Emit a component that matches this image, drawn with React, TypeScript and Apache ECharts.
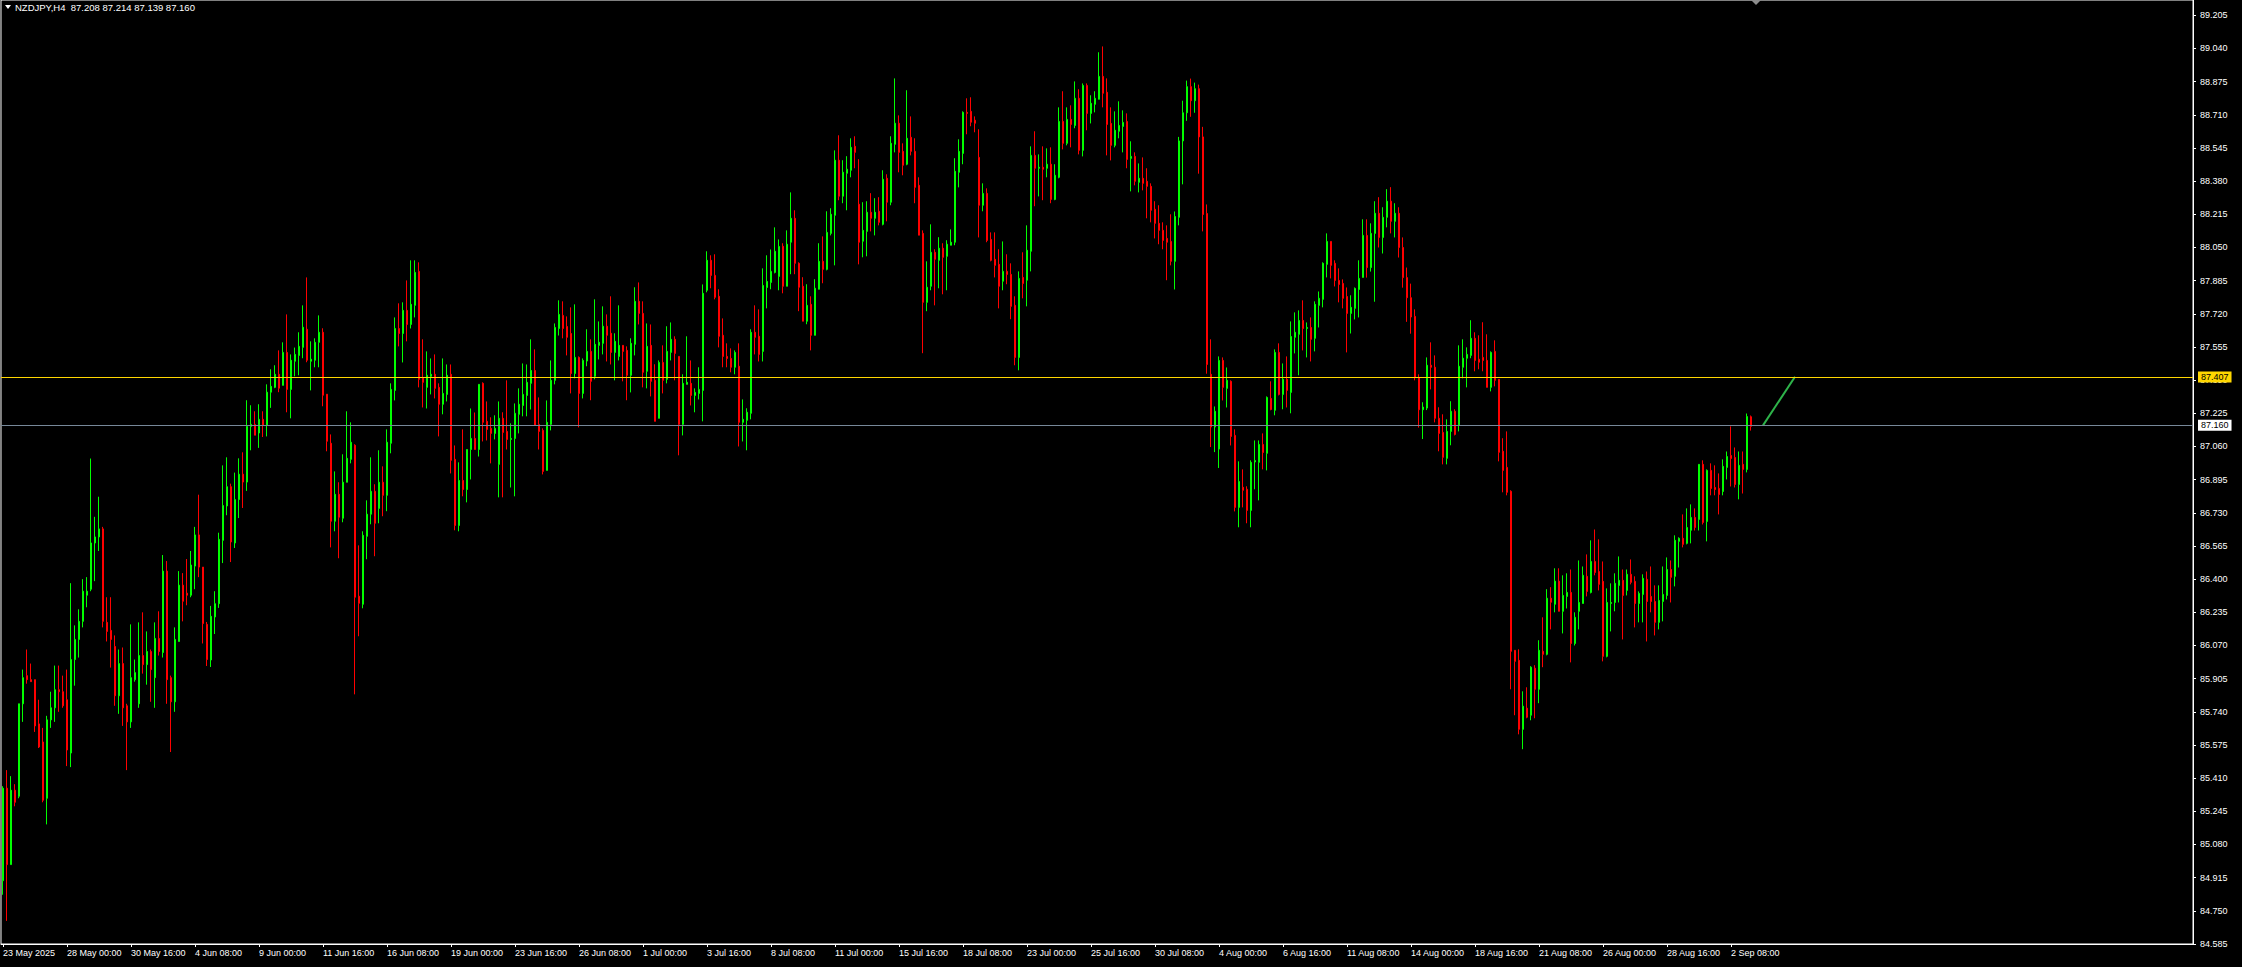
import React, { useEffect, useRef } from 'react';
import * as echarts from 'echarts';

const BASE = 84.585;
const TICK_STEP = 0.165;
const AXIS_TOP = 4.696;
const LABEL_STEP = 16;
const SLOTS = 548;

const symbolName = 'NZDJPY,H4';
const lastQuote = '87.208 87.214 87.139 87.160';
const levelLine = 87.407;
const bidLine = 87.16;
const trendIdx = [440, 448];
const trendVals = [87.165, 87.407];

const timeLabels = [
  '23 May 2025', '28 May 00:00', '30 May 16:00', '4 Jun 08:00', '9 Jun 00:00', '11 Jun 16:00',
  '16 Jun 08:00', '19 Jun 00:00', '23 Jun 16:00', '26 Jun 08:00', '1 Jul 00:00', '3 Jul 16:00',
  '8 Jul 08:00', '11 Jul 00:00', '15 Jul 16:00', '18 Jul 08:00', '23 Jul 00:00', '25 Jul 16:00',
  '30 Jul 08:00', '4 Aug 00:00', '6 Aug 16:00', '11 Aug 08:00', '14 Aug 00:00', '18 Aug 16:00',
  '21 Aug 08:00', '26 Aug 00:00', '28 Aug 16:00', '2 Sep 08:00',
];

const opens = [
  84.90, 85.36, 84.98, 85.35, 85.32, 85.78, 85.92, 85.90, 85.90, 85.68,
  85.59, 85.31, 85.70, 85.76, 85.85, 85.84, 85.80, 85.535, 86.00, 86.10,
  86.19, 86.32, 86.35, 86.58, 86.61, 86.65, 86.185, 86.145, 86.065, 85.82,
  85.98, 85.77, 85.69, 85.90, 85.78, 86.02, 85.975, 86.04, 85.91, 86.105,
  86.035, 86.44, 85.91, 85.79, 86.09, 86.37, 86.33, 86.32, 86.465, 86.62,
  86.46, 86.175, 85.998, 86.212, 86.278, 86.593, 86.764, 86.86, 86.58, 86.796,
  86.922, 86.883, 87.16, 87.17, 87.127, 87.195, 87.165, 87.33, 87.354, 87.419,
  87.364, 87.528, 87.344, 87.484, 87.513, 87.553, 87.643, 87.484, 87.489, 87.578,
  87.628, 87.32, 87.076, 86.688, 86.822, 86.703, 86.882, 86.996, 87.066, 86.315,
  86.275, 86.613, 86.723, 86.837, 86.752, 86.882, 86.817, 87.076, 87.339, 87.647,
  87.622, 87.737, 87.667, 87.762, 87.931, 87.399, 87.354, 87.409, 87.419, 87.354,
  87.27, 87.319, 87.419, 86.996, 86.667, 86.891, 86.846, 87.045, 87.10, 87.045,
  87.374, 87.185, 87.15, 87.125, 86.971, 87.20, 87.135, 87.095, 87.10, 87.22,
  87.264, 87.314, 87.374, 87.438, 87.17, 87.14, 86.941, 87.17, 87.389, 87.647,
  87.712, 87.657, 87.622, 87.423, 87.503, 87.324, 87.485, 87.533, 87.409, 87.563,
  87.573, 87.658, 87.623, 87.528, 87.508, 87.563, 87.538, 87.414, 87.568, 87.782,
  87.722, 87.434, 87.563, 87.389, 87.20, 87.478, 87.394, 87.528, 87.593, 87.508,
  87.17, 87.369, 87.374, 87.314, 87.324, 87.339, 87.837, 87.986, 87.911, 87.807,
  87.613, 87.508, 87.498, 87.454, 87.459, 87.18, 87.19, 87.225, 87.628, 87.608,
  87.533, 87.851, 87.876, 87.926, 87.906, 88.056, 87.857, 88.076, 88.195, 87.971,
  87.857, 87.683, 87.767, 87.613, 87.842, 87.981, 87.941, 88.12, 88.21, 88.484,
  88.305, 88.419, 88.434, 88.553, 88.265, 88.081, 88.13, 88.225, 88.195, 88.23,
  88.165, 88.394, 88.275, 88.563, 88.668, 88.528, 88.464, 88.598, 88.528, 88.359,
  88.12, 87.777, 87.857, 88.026, 87.986, 88.046, 88.006, 88.061, 88.076, 88.424,
  88.518, 88.722, 88.727, 88.683, 88.498, 88.26, 88.319, 88.09, 87.991, 87.966,
  87.882, 87.931, 87.916, 87.762, 87.503, 87.901, 87.887, 88.031, 88.508, 88.444,
  88.449, 88.444, 88.464, 88.289, 88.399, 88.677, 88.568, 88.687, 88.657, 88.792,
  88.533, 88.856, 88.717, 88.762, 88.787, 88.901, 88.822, 88.667, 88.558, 88.628,
  88.652, 88.677, 88.493, 88.503, 88.374, 88.394, 88.379, 88.354, 88.24, 88.17,
  88.135, 88.095, 88.08, 87.981, 88.20, 88.58, 88.72, 88.85, 88.78, 88.84,
  88.60, 88.219, 87.419, 87.157, 87.047, 87.488, 87.349, 87.384, 87.115, 86.757,
  86.857, 86.847, 86.742, 86.983, 86.981, 87.07, 87.026, 87.299, 87.24, 87.528,
  87.319, 87.394, 87.329, 87.603, 87.618, 87.687, 87.647, 87.652, 87.598, 87.762,
  87.792, 87.966, 88.08, 87.971, 87.886, 87.871, 87.806, 87.722, 87.747, 87.841,
  87.901, 88.11, 87.95, 88.12, 88.22, 88.10, 88.20, 88.28, 88.18, 88.22,
  88.05, 87.90, 87.80, 87.707, 87.402, 87.243, 87.251, 87.464, 87.454, 87.20,
  87.13, 87.001, 87.135, 87.235, 87.165, 87.454, 87.499, 87.513, 87.598, 87.494,
  87.503, 87.488, 87.354, 87.533, 87.394, 87.036, 86.956, 86.837, 86.046, 85.996,
  85.653, 85.758, 85.723, 85.957, 85.852, 86.041, 86.026, 86.305, 86.275, 86.39,
  86.24, 86.314, 86.334, 86.08, 86.24, 86.279, 86.414, 86.334, 86.488, 86.438,
  86.389, 86.016, 86.279, 86.284, 86.369, 86.394, 86.344, 86.424, 86.389, 86.279,
  86.324, 86.399, 86.314, 86.289, 86.185, 86.289, 86.319, 86.448, 86.414, 86.588,
  86.603, 86.578, 86.643, 86.707, 86.697, 86.971, 86.687, 86.941, 86.856, 86.851,
  86.836, 86.956, 87.015, 87.005, 86.871, 86.971, 86.946, 87.208,
];

const highs = [
  85.37, 85.45, 85.42, 85.38, 85.78, 85.95, 86.05, 85.98, 85.90, 85.80,
  85.66, 85.72, 85.84, 85.97, 85.97, 85.92, 85.95, 86.38, 86.17, 86.25,
  86.40, 86.41, 87.00, 86.71, 86.81, 86.66, 86.31, 86.31, 86.12, 86.05,
  86.06, 85.78, 86.175, 86.00, 86.185, 86.235, 86.14, 86.05, 86.185, 86.24,
  86.52, 86.49, 85.92, 86.16, 86.44, 86.43, 86.50, 86.54, 86.66, 86.82,
  86.46, 86.187, 86.267, 86.34, 86.631, 86.966, 87.006, 86.875, 86.93, 87.001,
  87.031, 87.29, 87.265, 87.235, 87.27, 87.235, 87.369, 87.444, 87.464, 87.538,
  87.578, 87.717, 87.518, 87.552, 87.628, 87.762, 87.901, 87.583, 87.598, 87.712,
  87.648, 87.32, 87.12, 86.936, 86.882, 87.021, 87.235, 87.18, 87.071, 86.568,
  86.638, 86.792, 87.006, 86.872, 87.041, 86.961, 87.145, 87.374, 87.702, 87.772,
  87.777, 87.886, 87.986, 87.986, 87.976, 87.593, 87.533, 87.498, 87.518, 87.374,
  87.498, 87.468, 87.468, 87.065, 86.981, 87.145, 87.045, 87.249, 87.229, 87.369,
  87.379, 87.284, 87.205, 87.215, 87.284, 87.23, 87.389, 87.175, 87.274, 87.349,
  87.473, 87.468, 87.593, 87.543, 87.304, 87.15, 87.289, 87.488, 87.672, 87.787,
  87.782, 87.707, 87.752, 87.767, 87.508, 87.498, 87.643, 87.593, 87.792, 87.682,
  87.757, 87.717, 87.807, 87.623, 87.762, 87.563, 87.558, 87.598, 87.852, 87.876,
  87.782, 87.672, 87.667, 87.469, 87.488, 87.563, 87.658, 87.677, 87.608, 87.508,
  87.419, 87.608, 87.488, 87.349, 87.454, 87.866, 88.031, 88.011, 88.016, 87.842,
  87.697, 87.573, 87.548, 87.538, 87.573, 87.294, 87.25, 87.643, 87.762, 87.742,
  87.946, 88.011, 88.04, 88.15, 88.09, 88.071, 88.135, 88.324, 88.235, 87.976,
  87.902, 87.867, 87.807, 87.892, 88.071, 88.105, 88.23, 88.245, 88.533, 88.608,
  88.484, 88.504, 88.593, 88.603, 88.489, 88.275, 88.28, 88.32, 88.295, 88.30,
  88.434, 88.414, 88.603, 88.891, 88.707, 88.568, 88.832, 88.702, 88.593, 88.399,
  88.135, 87.981, 88.165, 88.041, 88.101, 88.071, 88.086, 88.14, 88.494, 88.588,
  88.727, 88.792, 88.797, 88.702, 88.638, 88.369, 88.344, 88.125, 88.125, 88.041,
  88.08, 88.016, 87.971, 87.807, 87.931, 88.026, 88.16, 88.553, 88.628, 88.513,
  88.553, 88.543, 88.548, 88.464, 88.747, 88.827, 88.747, 88.757, 88.876, 88.837,
  88.866, 88.866, 88.807, 88.827, 89.021, 89.05, 88.891, 88.747, 88.727, 88.777,
  88.732, 88.717, 88.578, 88.523, 88.468, 88.498, 88.444, 88.369, 88.28, 88.26,
  88.175, 88.16, 88.215, 88.229, 88.60, 88.78, 88.88, 88.89, 88.87, 88.86,
  88.65, 88.264, 87.593, 87.259, 87.508, 87.503, 87.453, 87.389, 87.145, 86.986,
  86.946, 86.862, 86.991, 87.09, 87.09, 87.125, 87.309, 87.384, 87.543, 87.573,
  87.473, 87.508, 87.682, 87.727, 87.737, 87.787, 87.677, 87.702, 87.782, 87.831,
  87.976, 88.12, 88.08, 87.986, 87.946, 87.891, 87.851, 87.812, 87.851, 87.986,
  88.19, 88.19, 88.17, 88.28, 88.30, 88.25, 88.34, 88.35, 88.27, 88.25,
  88.10, 87.95, 87.87, 87.742, 87.419, 87.28, 87.503, 87.578, 87.513, 87.255,
  87.22, 87.195, 87.285, 87.245, 87.563, 87.593, 87.553, 87.688, 87.628, 87.613,
  87.678, 87.618, 87.533, 87.588, 87.394, 87.101, 87.135, 86.842, 86.046, 86.051,
  85.842, 85.862, 85.967, 85.972, 86.096, 86.21, 86.35, 86.36, 86.454, 86.454,
  86.419, 86.429, 86.448, 86.235, 86.493, 86.463, 86.523, 86.593, 86.647, 86.598,
  86.488, 86.354, 86.379, 86.429, 86.513, 86.448, 86.448, 86.498, 86.414, 86.339,
  86.424, 86.438, 86.463, 86.369, 86.369, 86.463, 86.508, 86.493, 86.618, 86.608,
  86.722, 86.752, 86.772, 86.752, 86.971, 86.991, 86.946, 86.976, 86.966, 86.926,
  86.996, 87.035, 87.16, 87.055, 87.035, 87.035, 87.224, 87.214,
];

const lows = [
  84.83, 84.70, 84.98, 85.27, 85.31, 85.69, 85.88, 85.89, 85.64, 85.56,
  85.29, 85.18, 85.66, 85.69, 85.74, 85.76, 85.47, 85.465, 85.87, 86.01,
  86.16, 86.26, 86.34, 86.39, 86.54, 86.16, 86.09, 85.96, 85.77, 85.73,
  85.67, 85.45, 85.66, 85.89, 85.76, 85.93, 85.875, 85.79, 85.76, 86.02,
  86.01, 85.78, 85.54, 85.74, 86.09, 86.19, 86.27, 86.31, 86.35, 86.41,
  86.08, 85.968, 85.963, 86.127, 86.257, 86.48, 86.718, 86.485, 86.555, 86.704,
  86.754, 86.839, 87.041, 87.116, 87.053, 87.107, 87.11, 87.252, 87.35, 87.33,
  87.364, 87.23, 87.20, 87.409, 87.414, 87.499, 87.479, 87.339, 87.454, 87.454,
  87.26, 87.036, 86.558, 86.638, 86.504, 86.683, 86.882, 86.976, 85.827, 86.116,
  86.255, 86.499, 86.673, 86.514, 86.678, 86.713, 86.738, 87.026, 87.289, 87.558,
  87.478, 87.583, 87.647, 87.702, 87.354, 87.254, 87.249, 87.319, 87.299, 87.11,
  87.22, 87.284, 86.926, 86.643, 86.638, 86.812, 86.782, 86.896, 87.045, 87.01,
  87.085, 87.09, 86.976, 87.095, 86.807, 86.807, 87.045, 86.856, 86.812, 87.125,
  87.21, 87.21, 87.244, 87.165, 87.045, 86.921, 86.941, 87.14, 87.369, 87.612,
  87.598, 87.513, 87.324, 87.399, 87.155, 87.299, 87.459, 87.29, 87.394, 87.493,
  87.518, 87.483, 87.468, 87.389, 87.488, 87.384, 87.29, 87.329, 87.513, 87.667,
  87.354, 87.349, 87.309, 87.185, 87.20, 87.324, 87.374, 87.488, 87.389, 87.016,
  87.115, 87.369, 87.264, 87.23, 87.294, 87.185, 87.827, 87.847, 87.792, 87.553,
  87.454, 87.454, 87.429, 87.419, 87.06, 87.085, 87.041, 87.195, 87.518, 87.483,
  87.483, 87.747, 87.842, 87.921, 87.837, 87.822, 87.857, 87.917, 87.917, 87.733,
  87.683, 87.668, 87.538, 87.613, 87.842, 87.872, 87.936, 88.11, 87.961, 88.285,
  88.27, 88.235, 88.399, 88.444, 87.966, 88.001, 88.006, 88.13, 88.11, 88.16,
  88.16, 88.18, 88.26, 88.523, 88.424, 88.409, 88.459, 88.508, 88.27, 88.111,
  87.524, 87.733, 87.837, 87.762, 87.847, 87.817, 87.837, 88.061, 88.061, 88.349,
  88.464, 88.613, 88.653, 88.623, 88.10, 88.23, 88.076, 87.981, 87.901, 87.747,
  87.837, 87.867, 87.693, 87.464, 87.439, 87.797, 87.757, 87.931, 88.255, 88.304,
  88.285, 88.399, 88.27, 88.285, 88.394, 88.538, 88.558, 88.548, 88.643, 88.513,
  88.503, 88.633, 88.667, 88.722, 88.787, 88.747, 88.508, 88.483, 88.548, 88.593,
  88.523, 88.444, 88.329, 88.359, 88.324, 88.334, 88.195, 88.175, 88.095, 88.066,
  88.041, 87.887, 87.961, 87.841, 88.16, 88.364, 88.68, 88.70, 88.72, 88.417,
  88.13, 87.422, 87.057, 87.032, 86.953, 87.289, 87.254, 87.065, 86.737, 86.658,
  86.757, 86.678, 86.658, 86.847, 86.792, 86.946, 86.941, 87.24, 87.215, 87.314,
  87.245, 87.254, 87.225, 87.523, 87.414, 87.538, 87.503, 87.483, 87.533, 87.652,
  87.752, 87.901, 87.896, 87.856, 87.777, 87.747, 87.528, 87.622, 87.692, 87.702,
  87.901, 87.90, 87.93, 87.78, 88.05, 88.02, 88.15, 88.12, 88.10, 88.00,
  87.85, 87.68, 87.621, 87.389, 87.154, 87.097, 87.241, 87.344, 87.18, 87.036,
  86.971, 86.971, 87.066, 87.115, 87.135, 87.399, 87.354, 87.499, 87.434, 87.444,
  87.434, 87.354, 87.334, 87.359, 86.986, 86.832, 86.817, 85.852, 85.723, 85.628,
  85.554, 85.708, 85.698, 85.708, 85.783, 85.962, 86.021, 86.15, 86.235, 86.24,
  86.13, 86.254, 85.986, 86.07, 86.15, 86.279, 86.314, 86.329, 86.419, 86.344,
  85.991, 86.011, 86.14, 86.24, 86.284, 86.10, 86.319, 86.374, 86.16, 86.185,
  86.185, 86.09, 86.235, 86.12, 86.15, 86.19, 86.299, 86.284, 86.364, 86.458,
  86.558, 86.573, 86.578, 86.642, 86.642, 86.672, 86.588, 86.817, 86.817, 86.722,
  86.817, 86.896, 86.861, 86.856, 86.797, 86.826, 86.931, 87.139,
];

const closes = [
  85.36, 84.98, 85.35, 85.29, 85.78, 85.91, 85.90, 85.89, 85.67, 85.565,
  85.30, 85.70, 85.76, 85.85, 85.84, 85.77, 85.55, 86.00, 86.10, 86.19,
  86.34, 86.34, 86.58, 86.61, 86.65, 86.19, 86.14, 86.10, 85.82, 85.98,
  85.76, 85.69, 85.91, 85.935, 86.02, 85.975, 86.04, 85.95, 86.105, 86.04,
  86.44, 85.90, 85.79, 86.10, 86.37, 86.29, 86.32, 86.47, 86.62, 86.46,
  86.179, 86.00, 86.215, 86.278, 86.598, 86.766, 86.86, 86.585, 86.796, 86.922,
  86.883, 87.16, 87.17, 87.116, 87.195, 87.165, 87.33, 87.359, 87.419, 87.35,
  87.528, 87.344, 87.489, 87.518, 87.558, 87.653, 87.489, 87.494, 87.578, 87.628,
  87.315, 87.086, 86.688, 86.822, 86.708, 86.882, 87.001, 87.081, 86.31, 86.28,
  86.618, 86.723, 86.837, 86.678, 86.882, 86.817, 87.081, 87.344, 87.647, 87.622,
  87.737, 87.667, 87.767, 87.926, 87.394, 87.379, 87.414, 87.419, 87.349, 87.27,
  87.324, 87.414, 86.991, 86.667, 86.891, 86.846, 87.045, 87.10, 87.045, 87.369,
  87.18, 87.145, 87.125, 87.15, 87.20, 87.13, 87.095, 87.10, 87.225, 87.27,
  87.319, 87.379, 87.438, 87.165, 87.135, 86.936, 87.18, 87.389, 87.652, 87.717,
  87.647, 87.603, 87.423, 87.503, 87.324, 87.488, 87.533, 87.384, 87.568, 87.578,
  87.658, 87.613, 87.528, 87.583, 87.563, 87.533, 87.414, 87.573, 87.782, 87.722,
  87.429, 87.558, 87.384, 87.185, 87.478, 87.389, 87.533, 87.593, 87.523, 87.17,
  87.374, 87.379, 87.314, 87.329, 87.344, 87.822, 87.986, 87.911, 87.802, 87.608,
  87.508, 87.498, 87.454, 87.528, 87.18, 87.195, 87.23, 87.628, 87.603, 87.518,
  87.861, 87.881, 87.931, 88.031, 88.055, 87.857, 88.066, 88.195, 87.971, 87.852,
  87.683, 87.762, 87.613, 87.847, 87.981, 87.941, 88.125, 88.215, 88.484, 88.305,
  88.424, 88.439, 88.548, 88.523, 88.076, 88.135, 88.225, 88.195, 88.225, 88.175,
  88.389, 88.275, 88.568, 88.668, 88.523, 88.459, 88.593, 88.528, 88.349, 88.111,
  87.777, 87.852, 88.026, 87.991, 88.046, 88.001, 88.066, 88.076, 88.429, 88.528,
  88.722, 88.717, 88.673, 88.668, 88.26, 88.319, 88.085, 87.986, 87.961, 87.857,
  87.931, 87.916, 87.757, 87.503, 87.896, 87.871, 88.036, 88.508, 88.444, 88.449,
  88.439, 88.464, 88.289, 88.409, 88.677, 88.568, 88.687, 88.662, 88.792, 88.533,
  88.856, 88.717, 88.767, 88.792, 88.901, 88.817, 88.662, 88.558, 88.633, 88.657,
  88.672, 88.488, 88.503, 88.379, 88.394, 88.369, 88.354, 88.235, 88.17, 88.135,
  88.085, 88.076, 87.981, 88.204, 88.58, 88.72, 88.85, 88.78, 88.84, 88.60,
  88.214, 87.468, 87.157, 87.235, 87.488, 87.354, 87.389, 87.11, 86.757, 86.886,
  86.842, 86.742, 86.981, 86.99, 87.07, 87.03, 87.304, 87.244, 87.528, 87.319,
  87.394, 87.339, 87.607, 87.628, 87.687, 87.647, 87.652, 87.593, 87.767, 87.797,
  87.971, 88.08, 87.961, 87.886, 87.866, 87.797, 87.722, 87.752, 87.846, 87.896,
  88.11, 87.95, 88.12, 88.22, 88.10, 88.20, 88.28, 88.18, 88.22, 88.05,
  87.90, 87.80, 87.704, 87.402, 87.243, 87.256, 87.464, 87.454, 87.20, 87.125,
  87.006, 87.135, 87.235, 87.12, 87.459, 87.499, 87.518, 87.598, 87.488, 87.479,
  87.488, 87.354, 87.528, 87.389, 87.031, 86.941, 86.832, 86.041, 85.991, 85.653,
  85.768, 85.713, 85.962, 85.852, 86.046, 86.026, 86.305, 86.285, 86.39, 86.24,
  86.319, 86.334, 86.08, 86.21, 86.284, 86.419, 86.339, 86.488, 86.433, 86.374,
  86.016, 86.284, 86.284, 86.379, 86.394, 86.319, 86.424, 86.384, 86.279, 86.329,
  86.404, 86.289, 86.289, 86.185, 86.294, 86.324, 86.448, 86.409, 86.593, 86.603,
  86.573, 86.657, 86.707, 86.657, 86.971, 86.682, 86.941, 86.851, 86.846, 86.821,
  86.961, 87.01, 87.00, 86.871, 86.966, 86.946, 87.209, 87.16,
];

const FONT = "'Liberation Sans', Arial, sans-serif";
const BULL = '#00ff00';
const BEAR = '#ff0000';

export default function App() {
  const ref = useRef<HTMLDivElement>(null);

  useEffect(() => {
    if (!ref.current) return;
    const chart = echarts.init(ref.current, null, { renderer: 'svg' });
    const n = Math.min(opens.length, highs.length, lows.length, closes.length);
    const candles: number[][] = [];
    for (let i = 0; i < n; i++) {
      candles.push([opens[i] - BASE, closes[i] - BASE, lows[i] - BASE, highs[i] - BASE]);
    }
    const cats = Array.from({ length: SLOTS }, (_, i) => String(i));
    const showIdx = (idx: number) => idx % LABEL_STEP === 0 && idx / LABEL_STEP < timeLabels.length;

    const option: any = {
      animation: false,
      backgroundColor: '#000000',
      grid: {
        left: 0,
        top: 0,
        width: 2193,
        height: 944,
        show: true,
        borderColor: '#ffffff',
        borderWidth: 1,
        backgroundColor: '#000000',
        containLabel: false,
      },
      xAxis: {
        type: 'category',
        data: cats,
        boundaryGap: true,
        axisLine: { show: true, lineStyle: { color: '#ffffff', width: 1 } },
        axisTick: {
          show: true,
          interval: (idx: number) => showIdx(idx),
          alignWithLabel: true,
          length: 3,
          lineStyle: { color: '#ffffff' },
        },
        axisLabel: {
          interval: (idx: number) => showIdx(idx),
          formatter: (_v: string, idx: number) => timeLabels[idx / LABEL_STEP] ?? '',
          align: 'left',
          color: '#ffffff',
          fontSize: 9,
          fontFamily: FONT,
          margin: 4,
        },
        splitLine: { show: false },
      },
      yAxis: {
        type: 'value',
        position: 'right',
        min: 0,
        max: AXIS_TOP,
        interval: TICK_STEP,
        scale: false,
        axisLine: { show: true, onZero: false, lineStyle: { color: '#ffffff', width: 1 } },
        axisTick: { show: true, length: 3, lineStyle: { color: '#ffffff' } },
        axisLabel: {
          color: '#ffffff',
          fontSize: 9,
          fontFamily: FONT,
          margin: 7,
          showMaxLabel: false,
          formatter: (v: number) => (v + BASE).toFixed(3),
        },
        splitLine: { show: false },
      },
      series: [
        {
          type: 'candlestick',
          data: candles,
          barWidth: 2,
          itemStyle: {
            color: BULL,
            color0: BEAR,
            borderColor: BULL,
            borderColor0: BEAR,
            borderColorDoji: BULL,
            borderWidth: 1,
          },
          markLine: {
            silent: true,
            symbol: ['none', 'none'],
            animation: false,
            label: {
              show: true,
              position: 'end',
              distance: 5,
              fontSize: 9,
              fontFamily: FONT,
              padding: [1, 3, 1, 3],
              color: '#000000',
            },
            data: [
              {
                yAxis: levelLine - BASE,
                lineStyle: { color: '#ffd700', width: 1, type: 'solid' },
                label: { formatter: levelLine.toFixed(3), backgroundColor: '#ffd700', color: '#000000' },
              },
              {
                yAxis: bidLine - BASE,
                lineStyle: { color: '#778899', width: 1, type: 'solid' },
                label: { formatter: bidLine.toFixed(3), backgroundColor: '#ffffff', color: '#000000' },
              },
            ],
          },
        },
        {
          type: 'line',
          data: trendIdx.map((x, k) => [x, trendVals[k] - BASE]),
          symbol: 'none',
          silent: true,
          lineStyle: { color: '#2eb34a', width: 2 },
        },
      ],
      graphic: [
        {
          type: 'polygon',
          shape: { points: [[5, 5], [11, 5], [8, 9]] },
          style: { fill: '#ffffff' },
        },
        {
          type: 'text',
          left: 15,
          top: 2,
          style: {
            text: symbolName + '  ' + lastQuote,
            fill: '#ffffff',
            fontSize: 9.5,
            fontFamily: FONT,
          },
        },
        {
          type: 'polygon',
          shape: { points: [[1751, 0], [1761, 0], [1756, 5]] },
          style: { fill: '#8c8c8c' },
        },
      ],
    };
    chart.setOption(option);
    return () => chart.dispose();
  }, []);

  return (
    <div
      ref={ref}
      style={{ position: 'fixed', left: 0, top: 0, width: 2242, height: 967, background: '#000000' }}
    />
  );
}
